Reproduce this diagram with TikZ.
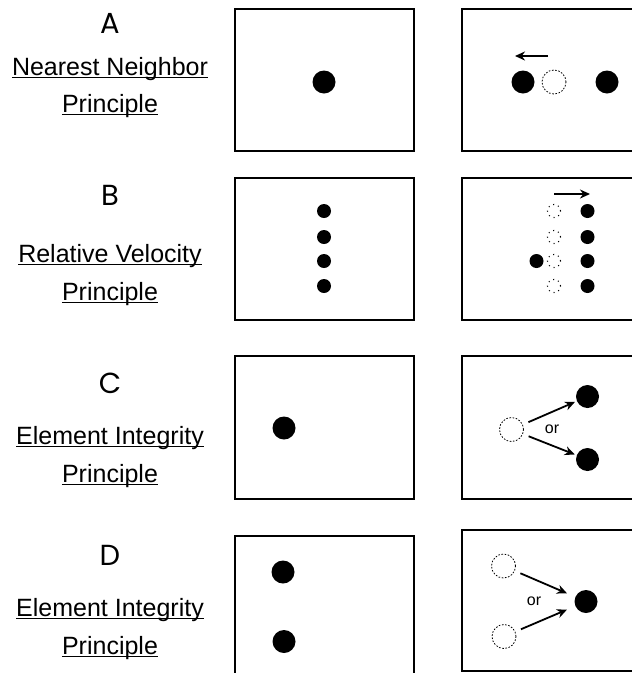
\documentclass[tikz,border=0pt]{standalone}
\usepackage{fontspec}
\setmainfont{Liberation Sans}
\newfontfamily\tagfont{Poppins}
\usetikzlibrary{arrows.meta, positioning}

\begin{document}
\begin{tikzpicture}[x=1pt, y=-1pt,
  panel/.style={draw, line width=1.2pt},
  blob/.style={circle, fill, inner sep=0pt, minimum size=23pt},
  dot/.style={circle, fill, inner sep=0pt, minimum size=14pt},
  ghost/.style={circle, draw, line width=0.8pt, dash pattern=on 1.6pt off 1.6pt, inner sep=0pt, minimum size=24pt},
  speck/.style={circle, draw, line width=1.1pt, dash pattern=on 1pt off 4pt, inner sep=0pt, minimum size=13pt},
  move/.style={line width=1.8pt, -{Stealth[length=10pt, width=9pt]}},
  tag/.style={font=\tagfont\fontsize{29}{32}\selectfont, anchor=base},
  title/.style={inner sep=0pt, anchor=base, font=\fontsize{25}{30}\selectfont},
  ortext/.style={font=\fontsize{16}{18}\selectfont}]

\useasboundingbox (0,0) rectangle (632,673);

% row labels
\node[tag] (ta) at (110,33) {A};
\node[title] (a1) at (110,75) {Nearest Neighbor};
\node[title] (a2) at (110,112) {Principle};
\node[tag] (tb) at (110,205) {B};
\node[title] (b1) at (110,262) {Relative Velocity};
\node[title] (b2) at (110,300) {Principle};
\node[tag] (tc) at (110,393) {C};
\node[title] (c1) at (110,444) {Element Integrity};
\node[title] (c2) at (110,482) {Principle};
\node[tag] (td) at (110,565) {D};
\node[title] (d1) at (110,616) {Element Integrity};
\node[title] (d2) at (110,654) {Principle};
\foreach \n in {a1,a2,b1,b2,c1,c2,d1,d2}
  \draw[line width=1.5pt] ([yshift=-2.5pt]\n.base west) -- ([yshift=-2.5pt]\n.base east);

% panels (right column runs off the page)
\draw[panel] (235,9) rectangle (414,151);
\draw[panel] (462,9) rectangle (650,151);
\draw[panel] (235,178) rectangle (414,320);
\draw[panel] (462,178) rectangle (650,320);
\draw[panel] (235,356) rectangle (414,499);
\draw[panel] (462,356) rectangle (650,499);
\draw[panel] (235,536) rectangle (414,690);
\draw[panel] (462,530) rectangle (650,671);

% A
\node[blob] (a0) at (324,82) {};
\node[blob] (an) at (523,82) {};
\node[ghost] (ag) at (554,82) {};
\node[blob] (af) at (607,82) {};
\coordinate (as) at (548,56);
\coordinate (ae) at (515,56);
\draw[move] (as) -- (ae);

% B
\foreach \i/\y in {1/211,2/237,3/261,4/286} {
  \node[dot] (b0\i) at (324,\y) {};
  \node[speck] (bg\i) at (554,\y) {};
  \node[dot] (bf\i) at (587.5,\y) {};
}
\node[dot] (bx) at (536.5,261) {};
\coordinate (bs) at (554,194);
\coordinate (be) at (590,194);
\draw[move] (bs) -- (be);

% C
\node[blob] (c0) at (284,428) {};
\node[ghost] (cg) at (511.5,429.5) {};
\node[blob] (cu) at (587.5,396.5) {};
\node[blob] (cd) at (587.5,459.5) {};
\draw[move, shorten <=6pt, shorten >=2pt] (cg) -- (cu);
\draw[move, shorten <=6pt, shorten >=2pt] (cg) -- (cd);
\node[ortext] (cor) at (552,429) {or};

% D
\node[blob] (du0) at (283,572) {};
\node[blob] (dd0) at (284,641.5) {};
\node[ghost] (dgu) at (503.5,566) {};
\node[ghost] (dgd) at (504,636.5) {};
\node[blob] (df) at (586,601.5) {};
\draw[move, shorten <=6pt, shorten >=9pt] (dgu) -- (df);
\draw[move, shorten <=6pt, shorten >=9pt] (dgd) -- (df);
\node[ortext] (dor) at (534,601) {or};

\end{tikzpicture}
\end{document}
